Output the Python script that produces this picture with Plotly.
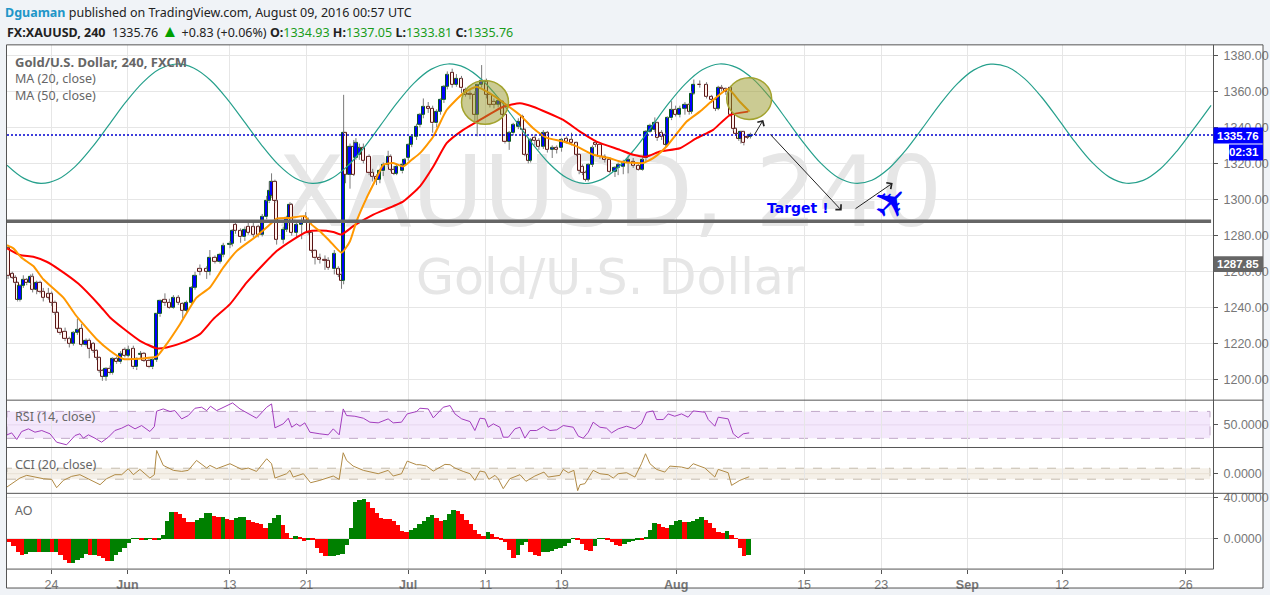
import plotly.graph_objects as go

W, H = 1270, 595
PLOT_L, PLOT_R, FRAME_R = 7, 1213, 1263
P_TOP, P_RSI, P_CCI, P_AO, P_BOT, F_BOT = 43, 399.5, 447, 493, 569, 588

bar_x = [0.5,2.5,3.9,5.0,6.1,7.7,9.3,11.2,12.1,14,
15.6,17.1,19.5,21.1,22.6,23.7,25,27.4,29.4,31.3,
33.2,35.2,37.3,38.8,40.7,42.3,43.5,45,46.7,48.6,
49.8,51.7,53.6,55.6,57.2,59.6,61.2,63,64.6,67,
68.7,70.6,72.2,74.5,76.6,78.5,80.8,82.9,84.7,87.1,
88.7,91,94.2,95.7,98.1,100.5,102,105.2,106.3,107.8,
110.2,112.2,113.8,116.2,118.5,120.4,122.5,123.7,124.8,126.4,
127.2,130.3,131.9,133.5,134.3,136.6,139,140.9,142.1,143.7,
145.3,147.6,150,151.5,154.4,156.3,157.8,158.8,159.7,161.8,
163.6,164.6,166.2,168.1,170.8,172.5,174.3,175.9,177.5,179.8,
181,182.5,183.8,186.5,187.7,189.3,190.9,193.2,194.8,196.4,
198.7,200.8,202.7,204.5,206.1,207.7,210,212,214.4,216.3,
218.4,220.7,221.8,223.9,226.2,227.8,229.7,231.7,233.8,234.9,
236.9,238.8,241.2,243.1,244.3,245.9,247,249,250.9,253,
254.9,257.2,259.3,261.6,264,266.3,268.7,269.9,271.5,272.9,
274.2,276.2,277.6,279.7,282,284.4,286.8,288.3,290.7,293,
295.4,297.8,299.8,301.4,303.3,305.6,306.7,308.8,310.7,311.6,
313.5,315.4,317.4,319.8,321.8,322.9,324,326.8,330,332.4,
334.2,335.5,337.1,339.1,341.3,342.6,343.8,345.2,346.2,347.6,
349.3,350.7]
opens = [1273.2,1258.9,1256.7,1253.9,1244.2,1252.1,1255.4,1253.6,1257,1250.2,
1253.9,1249,1247.5,1247.5,1242.9,1237.4,1228.2,1226.7,1222.6,1220.2,
1226,1228.5,1219.3,1221.7,1219.9,1216.2,1212.5,1205.2,1201.8,1206.1,
1203.7,1211.6,1209.8,1216.6,1213.4,1217.1,1207,1214,1214.4,1210.7,
1207,1211,1236.4,1244.2,1242.9,1240.1,1245.3,1242,1238.3,1242.9,
1251.2,1261.3,1261.3,1259.8,1267.7,1265.5,1269.6,1275.1,1275.4,1286.1,
1282.4,1279.1,1285,1284.6,1284.6,1280.6,1290.2,1299,1301.8,1310,
1299,1277.8,1283.4,1289.8,1297.2,1281.5,1286.1,1290.2,1288,1281.5,
1271.4,1267.7,1266.8,1266.2,1261.3,1261.3,1258.5,1254.8,1336.7,1313.7,
1329.4,1323,1324.8,1328.4,1323.8,1314.6,1312.8,1311,1315.6,1319.2,
1323.8,1316.5,1314.1,1315.6,1319.2,1323,1330.3,1334.9,1341.3,1346.8,
1351.4,1350.5,1342.2,1348.7,1355.1,1362.5,1370.4,1363.4,1366.7,1360.6,
1358.8,1358.2,1346.8,1363.4,1365.2,1357.9,1354.2,1352.7,1354.2,1346.8,
1331.8,1336.7,1340.4,1345.9,1338.6,1324.8,1321.4,1334,1332.5,1329.4,
1336.7,1327.5,1328.4,1328.4,1333.6,1333,1331.2,1324.8,1318.3,1314.6,
1311,1319.2,1331.2,1330.3,1323.8,1322,1315.2,1317.4,1318.3,1320.2,
1321.1,1318.9,1316.5,1322.9,1337.6,1338.6,1342.2,1336.7,1335.8,1330.3,
1345,1349.6,1346.8,1350.5,1352.4,1348.7,1358.8,1363.8,1363.4,1357,
1355.1,1350.5,1361.9,1361.2,1361.9,1346.8,1339.1,1336.2,1333.6,1337.3,
1334.9,1334.93]
closes = [1257.6,1256.7,1253.9,1244.2,1252.1,1255.4,1253.6,1257,1250.2,1253.9,
1249,1245.6,1245.6,1242.9,1237.4,1228.2,1226,1222.6,1220.2,1226,
1227.6,1219.3,1221.7,1217.1,1216.2,1212.5,1205.2,1201.8,1206.1,1203.7,
1211.6,1209.8,1214.4,1213.4,1216.6,1207,1211.6,1214.7,1210.7,1207,
1211,1236.4,1243.8,1242.9,1240.1,1245.6,1242.9,1238.3,1242.9,1251.2,
1257.6,1260,1259.8,1267.7,1265.5,1269.6,1274.2,1275.4,1282.8,1282.8,
1279.1,1283.4,1281.5,1280.6,1280.6,1290.2,1299,1305,1310,1299,
1277.8,1283.4,1289.8,1297.2,1281.5,1286.1,1287,1288,1281.5,1271.4,
1267.7,1266.8,1265.9,1262.2,1269.9,1258.5,1254.8,1336.7,1313.7,1329.4,
1313.7,1331.2,1328.4,1321.4,1314.6,1312.8,1311,1315.6,1319.2,1323.8,
1316.5,1314.1,1318.3,1319.2,1322,1330.3,1334.9,1340.4,1346.8,1351.4,
1350.2,1342.2,1348.7,1355.1,1362.5,1368.9,1363.4,1367.1,1361.6,1358.2,
1357.9,1346.8,1363.4,1365.6,1357.9,1352.4,1352.7,1354.6,1346.8,1331.8,
1336.7,1341.3,1343.2,1338.6,1324.8,1321.4,1333,1332.5,1329.4,1336.7,
1327.5,1328.4,1327.5,1333,1332.1,1331.2,1324.8,1315.9,1314.6,1311,
1319.2,1328.4,1330.3,1323.8,1322,1315.2,1317.4,1319.2,1320.2,1322,
1318.9,1316.5,1322,1337.6,1340.9,1342.2,1334,1334.9,1330.3,1345,
1349.6,1346.8,1350.5,1352.4,1348.7,1358.8,1363.8,1363.4,1357,1355.1,
1350.5,1361.9,1361.2,1359.7,1346.8,1339.1,1336.2,1333.6,1337.3,1331.2,
1334.3,1335.76]
highs = [1274,1260,1258,1254.5,1253,1258,1256.5,1258.5,1259,1255,
1255,1251,1251,1249,1244,1238,1229,1229,1224,1227,
1234,1231,1223,1223,1221,1217,1213,1206,1207,1208,
1212.5,1213,1216,1218,1219,1219,1212.5,1216,1215.5,1212,
1212,1237,1244.5,1248,1245,1247,1247,1243,1244,1252,
1260,1264,1263,1272,1269,1270.5,1276,1277,1283.5,1287,
1284,1285,1287,1287,1286,1292,1302,1310,1314.5,1311,
1300,1285,1291,1298.5,1298,1287,1290,1293,1290,1282,
1272.5,1270,1269,1268,1272,1263,1260,1358,1337,1331,
1333,1334,1331,1331,1325,1317,1314,1317,1320.5,1327,
1325,1318.5,1320,1320.5,1323,1331,1336,1342,1348,1356,
1354,1352,1350,1356,1363.5,1371,1372.5,1369.5,1368.5,1362,
1360.5,1360,1364,1374.5,1367,1359,1356,1356.5,1355,1347.5,
1338,1342.5,1345,1347,1339.5,1326,1334,1336,1334,1338.5,
1338,1330,1330,1334,1335,1337,1332,1325.5,1319.5,1316,
1320,1330,1333,1331,1325,1323.5,1318.5,1320.5,1322,1323.5,
1323,1320,1323.5,1338.5,1342,1345.5,1343,1338.5,1337,1346,
1354.5,1352,1352,1354,1353.5,1360,1366.5,1366,1365,1358,
1356,1363,1363.5,1362,1363,1347.5,1340,1337,1338,1338,
1336,1337.05]
lows = [1256,1256,1253,1243.5,1243.5,1251,1252.5,1252.5,1248.5,1247.5,
1248,1243.5,1244.5,1241,1236,1227.5,1225,1221.5,1218,1219,
1225,1218.5,1218.5,1212,1215,1211,1204,1199.5,1199.5,1203,
1203,1209,1209,1212.5,1212.5,1206,1205.5,1212,1210,1206.5,
1206,1210,1235,1241,1239.5,1239.5,1241.5,1234,1237,1242,
1250,1258,1256,1258,1264.5,1264.5,1268,1273,1274,1281,
1276,1277,1280.5,1279,1279,1279.5,1289,1298,1301,1298,
1275,1275.5,1282,1288.5,1280,1279,1278,1287,1280.5,1270.5,
1264,1264.5,1261,1261,1258.5,1257,1250.5,1253,1309,1306,
1313,1322,1322,1320,1313.5,1310,1308,1309,1313,1318,
1315.5,1313.5,1313.5,1314.5,1318.5,1321.5,1329,1333,1340,1345,
1348,1337,1340,1347,1353.5,1361,1362,1362.5,1359,1357,
1355.5,1342.5,1335,1362,1356,1351,1350.5,1351,1346,1331,
1327.5,1335.5,1339,1337,1324,1320,1320.5,1330,1327.5,1328,
1326,1323,1325.5,1326.5,1331,1330,1324,1314,1313.5,1310,
1310,1318,1329,1322.5,1320.5,1314.5,1312.5,1313.5,1314,1314.5,
1317.5,1316,1316,1321,1337,1337.5,1332.5,1333,1329,1329.5,
1344,1346,1345.5,1347,1347,1347.5,1358,1362,1356,1353.5,
1349,1349.5,1360,1358,1346,1338,1335.5,1332.5,1331,1330,
1333.5,1333.81]

ma20_x = [0,3,6.9,12.4,17.1,26.6,32.1,36,42.3,48.6,54.9,59.6,65.9,70.6,75.3,81.6,89.4,95.7,102,108.3,
117.7,124,127.2,133.5,140.5,143.7,147.6,152.3,157.8,161.8,164.9,169.6,174.3,177.5,182.2,186.9,190.9,194.8,
201.1,207.4,215.2,221.5,227.8,235.7,242,248.2,254.5,262.4,268.7,276.5,284.4,289.1,297,300.1,304.8,311.1,
320.6,326.8,333.1,340.2,345.7,350.3]
ma20_y = [1274.7,1272.9,1267.7,1263.1,1255.8,1245.6,1236.4,1230.9,1222.6,1216.2,1211.6,1211.6,1212.2,1212.9,1219.9,1230.9,1245.6,1251.2,1262.2,1271.4,
1279.7,1286.1,1289.4,1289.8,1290.7,1286.1,1282.4,1276.9,1270.5,1276.9,1288,1300.8,1311.9,1319.2,1320.2,1318.3,1322,1325.7,
1334.9,1349.6,1358.8,1362.5,1358.8,1352.4,1346.8,1339.5,1334.3,1332.1,1329.4,1324.8,1322.9,1321.1,1320.2,1320.2,1322.9,1329.4,
1343.2,1348.7,1355.1,1361.2,1354.2,1348.7]
ma50_x = [0,6.1,12.4,18.7,25,33.6,43.9,48.6,54.9,62.7,70.6,75.3,83.2,91,97.3,105.2,113,120.9,127.2,135,141.3,147.6,153.9,157.8,163.3,172.8,187,
194.8,201.1,207.4,215.2,223.1,234.1,242,248.2,262.4,270.3,278.1,289.1,295.4,301.7,308,317.4,325.3,333.1,341,349.6]
ma50_y = [1272.9,1269.2,1268.3,1265.5,1260.9,1253.4,1241,1234.6,1228.5,1221.7,1217.5,1218,1220.8,1225.4,1233.7,1242,1253.9,1264,1271.4,1277.8,1282,1282.8,1282,1280.6,1285.2,1291.6,1299,
1307.3,1318.3,1331.2,1338.6,1344.1,1351.4,1353.3,1351.4,1344.1,1337.6,1332.1,1327.5,1324.8,1323.8,1326.6,1328.4,1334,1338.6,1346.8,1348.7]

sine_x = list(range(0, 569, 8))
sine_y = [1319,1311.7,1308.9,1311.2,1318.1,1328.7,1341.2,1353.9,1364.8,1372.3,1375.1,1372.9,1366.1,1355.5,1343,1330.3,
1319.3,1311.8,1308.9,1311,1317.8,1328.2,1340.8,1353.5,1364.5,1372.1,1375.1,1373.1,1366.4,1356,1343.5,1330.7,
1319.7,1312,1308.9,1310.9,1317.5,1327.8,1340.3,1353.1,1364.1,1371.9,1375.1,1373.2,1366.7,1356.4,1343.9,1331.1,
1320,1312.2,1309,1310.7,1317.2,1327.4,1339.8,1352.6,1363.8,1371.7,1375,1373.4,1367,1356.8,1344.4,1331.6,
1320.4,1312.4,1309,1310.6,1316.9,1327,1339.4,1352.2]

rsi_x = [0,2.2,4.6,6.9,10.1,13.2,16.4,20.3,23.4,28.1,32.1,34.4,36,38.4,41.5,44.6,47.8,50.9,54.1,57.2,60.4,63.5,67.4,69.5,70.6,73.7,76.9,79.2,82.4,85.5,
88.7,91.8,94.2,96,98.9,102,106.4,109.9,113.8,117.7,122.5,124.8,126.4,130.3,132.7,134.3,136.6,138.2,140.5,142.9,147.6,151.5,153.9,156.7,158.6,160.2,164.1,168.1,171.2,175.1,
179.8,182.2,186.1,188.8,193.2,194.8,198.7,201.1,205.8,209,211.3,214.5,218.4,220.7,223.1,225.5,227,229.4,232.5,234.1,236.5,239.6,242,244.3,246.7,249.8,253,256.1,259.3,262.4,
267.1,269.5,271.8,274.2,276.5,279.7,282.8,285.2,288.3,292.3,296.2,299.3,301.7,304.8,306.4,309.6,311.9,315,318.2,321.3,323.7,329.2,330.8,333.9,335.5,340.2,342.6,344.9,347.3,350.1]
rsi_y = [35.2,38.1,28.3,40.1,44.1,39.1,41.6,36.7,24.3,20.4,34.2,36.7,30.2,35.2,30.2,24.3,31.7,41.6,45.1,50,44.1,49,40.1,47.5,70.3,73.7,69.8,71.2,58.9,63.8,
74.7,76.2,71.2,77.7,71.2,76.2,82.6,73.7,66.3,59.9,76.2,81.1,45.6,51.5,59.9,46.5,51.5,48,53,39.1,36.7,35.2,44.1,35.2,73.7,63.8,62.8,59.9,54,53,
58.9,53,54,66.3,69.8,74.7,73.7,60.4,76.2,78.7,66.3,58.9,54.9,41.6,59.9,58.9,46.5,51.5,46.5,31.7,31.7,44.1,46.5,30.2,41.6,41.6,47.5,41.6,42.6,49,
46.5,33.2,30.2,39.1,54,46.5,45.1,38.1,44.1,48,44.1,51.5,68.8,70.7,57.9,57.9,66.3,62.8,66.3,61.4,70.7,68.8,57.9,48,61.4,58.9,36.7,30.7,36.7,38.1]

cci_x = [0,3,6.1,9.3,13.2,17.1,21.1,23.4,26.6,30.5,34.4,38.4,43.9,47,50.9,54.1,57.2,59.6,62.7,67.4,69.5,70.6,73.7,78.5,82.4,85.5,89.4,94.2,95.7,98.9,
105.2,110.7,113.8,117.7,122.5,124.8,126.4,131.9,133.5,135,139.8,143.2,147.6,153.9,156.7,158.6,160.2,163.3,168.1,175.1,179.8,182.2,186.1,188.8,193.2,
194.8,197.9,201.1,206.6,209,211.3,215.2,218.4,220.7,223.1,225.5,227.3,230.2,231.7,234.1,237.2,242,244.8,249,253.3,255.3,260.8,262.4,264.8,267.4,269.2,270.3,272.6,276.5,279.7,283.6,286,288.3,292.3,296.2,
299.3,301.2,303.3,306.4,310.3,312.7,318.2,321.3,323.7,329.2,333.9,335.5,340.2,341.8,345.7,350.1]
cci_y = [-242,-164,-79,-30,-61,-91,-103,-255,-121,-48,-18,-91,-200,-91,-18,-18,91,-18,79,-79,-18,424,152,61,42,61,242,103,152,91,
182,79,103,42,273,182,-79,0,61,-61,0,-164,-121,-42,-103,382,242,139,61,0,61,-42,0,230,164,
164,139,48,170,164,103,42,0,-121,48,30,-103,-30,-91,-273,-91,-18,-139,-42,30,-61,-30,79,18,61,-309,-200,-182,61,0,-18,-79,0,18,-61,
182,364,182,79,30,139,121,91,182,103,-61,79,18,-212,-121,-55]

ao_values = [-2.9,-6.8,-12.6,-16.4,-15.1,-12.6,-12.6,-13.2,-12.6,-12.6,-13.2,-12.6,-15.8,-20.6,-23.8,-23.8,-20.6,-19,-15.1,-16.4,
-16.4,-16.7,-18.4,-21.3,-21.3,-15.8,-13.2,-8.7,-4.5,-0.3,-0.3,-1.6,-1.6,-0.3,-1,-1,3.5,17.1,26.1,25.4,
23.5,20.3,16.4,15.8,18,20.3,24.5,24.5,22.2,20.6,21.3,19,18.4,20.3,20.9,20.9,17.7,16.4,15.5,13.8,
10.6,14.8,19.6,22.9,13.2,5.2,0.3,2.9,1.9,-1.9,-0.6,-1.3,-9.3,-14.2,-17.4,-17.4,-17.4,-16.4,-15.1,-6.1,
10,35.7,37.4,38,35.7,29.3,24.5,19.6,19,18.7,17.1,13.2,7.4,6.8,8.4,10.6,13.8,
17.1,21.3,22.9,19.6,17.1,18,23.5,27.7,26.7,23.5,18,13.8,8.1,4.2,2.9,6.1,4.2,1,-1,-2.9,
-10.9,-19,-15.8,-6.1,-2.9,-12.6,-16.4,-17.4,-12.6,-12.6,-11.9,-10.6,-9.3,-7.7,-4.5,-0.3,-1.3,-5.5,-10.9,-11.9,
-7.7,-0.3,0.3,-0.6,-2.9,-6.1,-6.8,-5.5,-3.5,-2.3,-1.3,-1.6,1.9,8.4,14.8,13.8,11.6,10,13.2,17.1,
18,16.4,16.4,17.4,19,20.9,18,14.8,10.6,6.1,5.2,7.4,3.5,-0.3,-9.3,-17.4,-16.4]

x_tick_bars = [21,56.8,105,141.2,189.2,225.8,261.7,315.7,376,412.4,453,497.8,556]
x_tick_text = ["24","<b>Jun</b>","13","21","<b>Jul</b>","11","19","<b>Aug</b>","15","23","<b>Sep</b>","12","26"]
price_ticks = [1200,1220,1240,1260,1280,1300,1320,1340,1360,1380]
last_price = 1335.76
level_price = 1288
circle_a = (214.4, 236.6, 1341.7, 1366)
circle_b = (339.5, 360.7, 1344.4, 1367.5)

assert len(bar_x) == len(opens) == len(closes) == len(highs) == len(lows), (len(bar_x), len(opens), len(closes), len(highs), len(lows))
assert len(rsi_x) == len(rsi_y) and len(cci_x) == len(cci_y), (len(rsi_x), len(rsi_y), len(cci_x), len(cci_y))
assert len(ma20_x) == len(ma20_y) and len(ma50_x) == len(ma50_y) and len(sine_x) == len(sine_y)

GRID = "#e6e6e6"
FRAME = "#555555"
TXT = "#777777"
TICKF = dict(family="Liberation Sans, Arial", size=12.5, color=TXT)
LABF = dict(family="Noto Sans", size=12.5, color="#666666")
fy = lambda px: 1 - px / H
fx = lambda px: px / W

fig = go.Figure()

# wicks, split so they never cross a body
wx, wy = [], []
for x, o, c, h, l in zip(bar_x, opens, closes, highs, lows):
    wx += [x, x, None, x, x, None]
    wy += [h, max(o, c), None, min(o, c), l, None]

is_up = [c >= o for o, c in zip(opens, closes)]
fig.add_trace(go.Bar(x=bar_x, base=[min(o, c) for o, c in zip(opens, closes)],
                     y=[abs(c - o) for o, c in zip(opens, closes)], width=1.5,
                     marker=dict(color=["#0000ff" if u else "#fff2ee" for u in is_up],
                                 line=dict(color=["#0a5a1a" if u else "#5a1414" for u in is_up], width=1)),
                     xaxis="x2", yaxis="y2"))
fig.add_trace(go.Scatter(x=wx, y=wy, mode="lines", line=dict(color="#7a7a7a", width=1), xaxis="x2", yaxis="y2"))
fig.add_trace(go.Scatter(x=sine_x, y=sine_y, mode="lines", line=dict(color="#26a08c", width=1.2, shape="spline"), xaxis="x2", yaxis="y2"))
fig.add_trace(go.Scatter(x=ma50_x, y=ma50_y, mode="lines", line=dict(color="#ff0000", width=2, shape="spline", smoothing=0.5), xaxis="x2", yaxis="y2"))
fig.add_trace(go.Scatter(x=ma20_x, y=ma20_y, mode="lines", line=dict(color="#ff9800", width=2, shape="spline", smoothing=0.5), xaxis="x2", yaxis="y2"))
fig.add_trace(go.Scatter(x=rsi_x, y=rsi_y, mode="lines", line=dict(color="#a23dbd", width=1), xaxis="x3", yaxis="y3"))
fig.add_trace(go.Scatter(x=cci_x, y=cci_y, mode="lines", line=dict(color="#b08a45", width=1), xaxis="x4", yaxis="y4"))

ao_step = 348.8 / (len(ao_values) - 1)
ao_x = [1 + i * ao_step for i in range(len(ao_values))]
ao_colors = ["#ff0000" if i == 0 or v < ao_values[i - 1] else "#008000" for i, v in enumerate(ao_values)]
fig.add_trace(go.Bar(x=ao_x, y=ao_values, width=ao_step, marker=dict(color=ao_colors, line=dict(width=0))))

xcommon = dict(domain=[fx(PLOT_L), fx(PLOT_R)], range=[0, 568.9], tickmode="array", tickvals=x_tick_bars,
               ticktext=x_tick_text, showgrid=True, gridcolor=GRID, gridwidth=1, zeroline=False, showline=False)
ycommon = dict(side="right", showgrid=True, gridcolor=GRID, gridwidth=1, zeroline=False, showline=False,
               ticks="outside", ticklen=4, tickcolor=FRAME, tickfont=TICKF, ticklabelstandoff=3)

fig.update_layout(
    width=W, height=H, margin=dict(l=0, r=0, t=0, b=0, pad=0), paper_bgcolor="#f0f3f7", plot_bgcolor="#ffffff",
    showlegend=False, bargap=0, barmode="overlay", hovermode=False,
    xaxis=dict(**xcommon, anchor="y", ticks="outside", ticklen=4, tickcolor=FRAME, tickfont=TICKF),
    xaxis2=dict(**xcommon, anchor="y2", matches="x", showticklabels=False, ticks=""),
    xaxis3=dict(**xcommon, anchor="y3", matches="x", showticklabels=False, ticks=""),
    xaxis4=dict(**xcommon, anchor="y4", matches="x", showticklabels=False, ticks=""),
    yaxis=dict(**ycommon, anchor="x", domain=[fy(P_BOT), fy(P_AO)], range=[-29.3, 44.2], tickmode="array", tickvals=[0, 40], tickformat=".4f"),
    yaxis2=dict(**ycommon, anchor="x2", domain=[fy(P_RSI), fy(P_TOP)], range=[1188.8, 1385.7], tickmode="array", tickvals=price_ticks, tickformat=".2f"),
    yaxis3=dict(**{**ycommon, "showgrid": False}, anchor="x3", domain=[fy(P_CCI), fy(P_RSI)], range=[16.4, 86.7], tickmode="array", tickvals=[50], tickformat=".4f"),
    yaxis4=dict(**{**ycommon, "showgrid": False}, anchor="x4", domain=[fy(P_AO), fy(P_CCI)], range=[-358, 478], tickmode="array", tickvals=[0], tickformat=".4f"),
)

def pline(x0, y0, x1, y1, color=FRAME, width=1):
    return dict(type="line", xref="paper", yref="paper", x0=fx(x0), x1=fx(x1), y0=fy(y0), y1=fy(y1),
                line=dict(color=color, width=width), layer="above")

def prect(x0, y0, x1, y1, fill):
    return dict(type="rect", xref="paper", yref="paper", x0=fx(x0), x1=fx(x1), y0=fy(y0), y1=fy(y1),
                fillcolor=fill, line=dict(width=0), layer="above")

def circle(c):
    return dict(type="circle", xref="x2", yref="y2", x0=c[0], x1=c[1], y0=c[2], y1=c[3],
                fillcolor="rgba(152,152,40,0.5)", line=dict(color="#a3a32e", width=1.5), layer="above")

shapes = [
    # white frame behind everything
    dict(type="rect", xref="paper", yref="paper", x0=fx(6.5), x1=fx(FRAME_R), y0=fy(F_BOT), y1=fy(P_TOP),
         fillcolor="#ffffff", line=dict(width=0), layer="below"),
    # watermark
    dict(type="rect", xref="paper", yref="paper", x0=fx(200), x1=fx(1020), y0=fy(244), y1=fy(124), layer="below",
         line=dict(width=0), fillcolor="rgba(0,0,0,0)",
         label=dict(text="XAUUSD, 240", textposition="middle center",
                    font=dict(family="DejaVu Sans", size=98, color="#e6e6e6"))),
    dict(type="rect", xref="paper", yref="paper", x0=fx(300), x1=fx(920), y0=fy(300), y1=fy(245), layer="below",
         line=dict(width=0), fillcolor="rgba(0,0,0,0)",
         label=dict(text="Gold/U.S. Dollar", textposition="middle center",
                    font=dict(family="DejaVu Sans", size=49, color="#e6e6e6"))),
    # indicator bands
    dict(type="rect", xref="x3", yref="y3", x0=0, x1=567.5, y0=30, y1=70, fillcolor="#f4e8fc",
         line=dict(color="#c0a8c8", width=1, dash="dash"), layer="below"),
    dict(type="line", xref="x3", yref="y3", x0=0, x1=567.5, y0=50, y1=50, line=dict(color="#e6d6ee", width=1), layer="below"),
    dict(type="rect", xref="x4", yref="y4", x0=0, x1=567.5, y0=-100, y1=100, fillcolor="#f5f0e8",
         line=dict(color="#c4bcae", width=1, dash="dash"), layer="below"),
    dict(type="line", xref="x4", yref="y4", x0=0, x1=567.5, y0=0, y1=0, line=dict(color="#e8e0d4", width=1), layer="below"),
    # levels
    dict(type="line", xref="x2", yref="y2", x0=0, x1=568, y0=level_price, y1=level_price, line=dict(color="#666666", width=3.5), layer="above"),
    dict(type="line", xref="x2", yref="y2", x0=0, x1=568.9, y0=last_price, y1=last_price, line=dict(color="#0000d0", width=1.3, dash="2px,2px"), layer="above"),
    circle(circle_a), circle(circle_b),
    # frame
    pline(6.5, P_TOP, FRAME_R, P_TOP), pline(6.5, F_BOT, FRAME_R, F_BOT),
    pline(6.5, P_TOP, 6.5, F_BOT), pline(FRAME_R, P_TOP, FRAME_R, F_BOT),
    pline(PLOT_R + .5, P_TOP, PLOT_R + .5, P_BOT),
    pline(6.5, P_RSI, FRAME_R, P_RSI), pline(6.5, P_CCI, FRAME_R, P_CCI), pline(6.5, P_AO, FRAME_R, P_AO),
    pline(6.5, P_BOT, PLOT_R + .5, P_BOT),
    # price scale labels
    prect(1213.5, 126, FRAME_R, 142, "#0000ff"),
    prect(1229, 143, FRAME_R, 159, "#0000ff"),
    prect(1213.5, 255, FRAME_R, 271, "#666666"),
]
fig.update_layout(shapes=shapes)

def note(x, y, text, font, anchor="left"):
    return dict(xref="paper", yref="paper", x=fx(x), y=fy(y), text=text, showarrow=False, font=font,
                xanchor=anchor, yanchor="middle", align=anchor, borderpad=0, borderwidth=0)

def arrow(x0, y0, x1, y1):
    return dict(xref="paper", yref="paper", x=fx(x1), y=fy(y1), ax=x0 - x1, ay=y0 - y1, axref="pixel", ayref="pixel",
                text="", showarrow=True, arrowhead=4, arrowsize=1.5, arrowwidth=1, arrowcolor="#222222")

HEAD = dict(family="Noto Sans", size=12.5, color="#222222")
G = '<span style="color:#1a9c1a">%s</span>'
header2 = ("<b>FX:XAUUSD, 240</b>  1335.76 " + '<span style="color:#00a000;font-size:17px">▲</span>' + " +0.83 (+0.06%) "
           + "<b>O:</b>" + G % "1334.93" + " <b>H:</b>" + G % "1337.05" + " <b>L:</b>" + G % "1333.81" + " <b>C:</b>" + G % "1335.76")
PF = dict(family="Liberation Sans, Arial", size=11.5, color="#ffffff")
BOLDLAB = dict(family="Noto Sans", size=13, color="#666666")
annotations = [
    note(5, 11, '<b><span style="color:#2196c8">Dguaman</span></b> published on TradingView.com, August 09, 2016 00:57 UTC', HEAD),
    note(7, 29, header2, HEAD),
    note(15, 60, "<b>Gold/U.S. Dollar, 240, FXCM</b>", BOLDLAB),
    note(15, 77, "MA (20, close)", LABF),
    note(15, 94, "MA (50, close)", LABF),
    note(15, 416, "RSI (14, close)", LABF),
    note(15, 464, "CCI (20, close)", LABF),
    note(15, 510, "AO", LABF),
    note(1259, 134, "<b>1335.76</b>", PF, "right"),
    note(1259, 151, "<b>02:31</b>", PF, "right"),
    note(1259, 263, "<b>1287.85</b>", PF, "right"),
    note(767, 207, "<b>Target !</b>", dict(family="DejaVu Sans", size=14, color="#0000ff")),
    note(891, 202, "<b>✈</b>", dict(family="DejaVu Sans", size=42, color="#0000ff"), "center") | dict(textangle=-45),
    arrow(753.3, 135, 763.3, 118.3),
    arrow(769, 131.7, 841.7, 209.3),
    arrow(854, 208.3, 892.7, 181.7),
]
fig.update_layout(annotations=annotations)

fig.write_html("out.html", config=dict(displayModeBar=False),
               post_script="document.body.style.margin='0';document.body.style.overflow='hidden';")
